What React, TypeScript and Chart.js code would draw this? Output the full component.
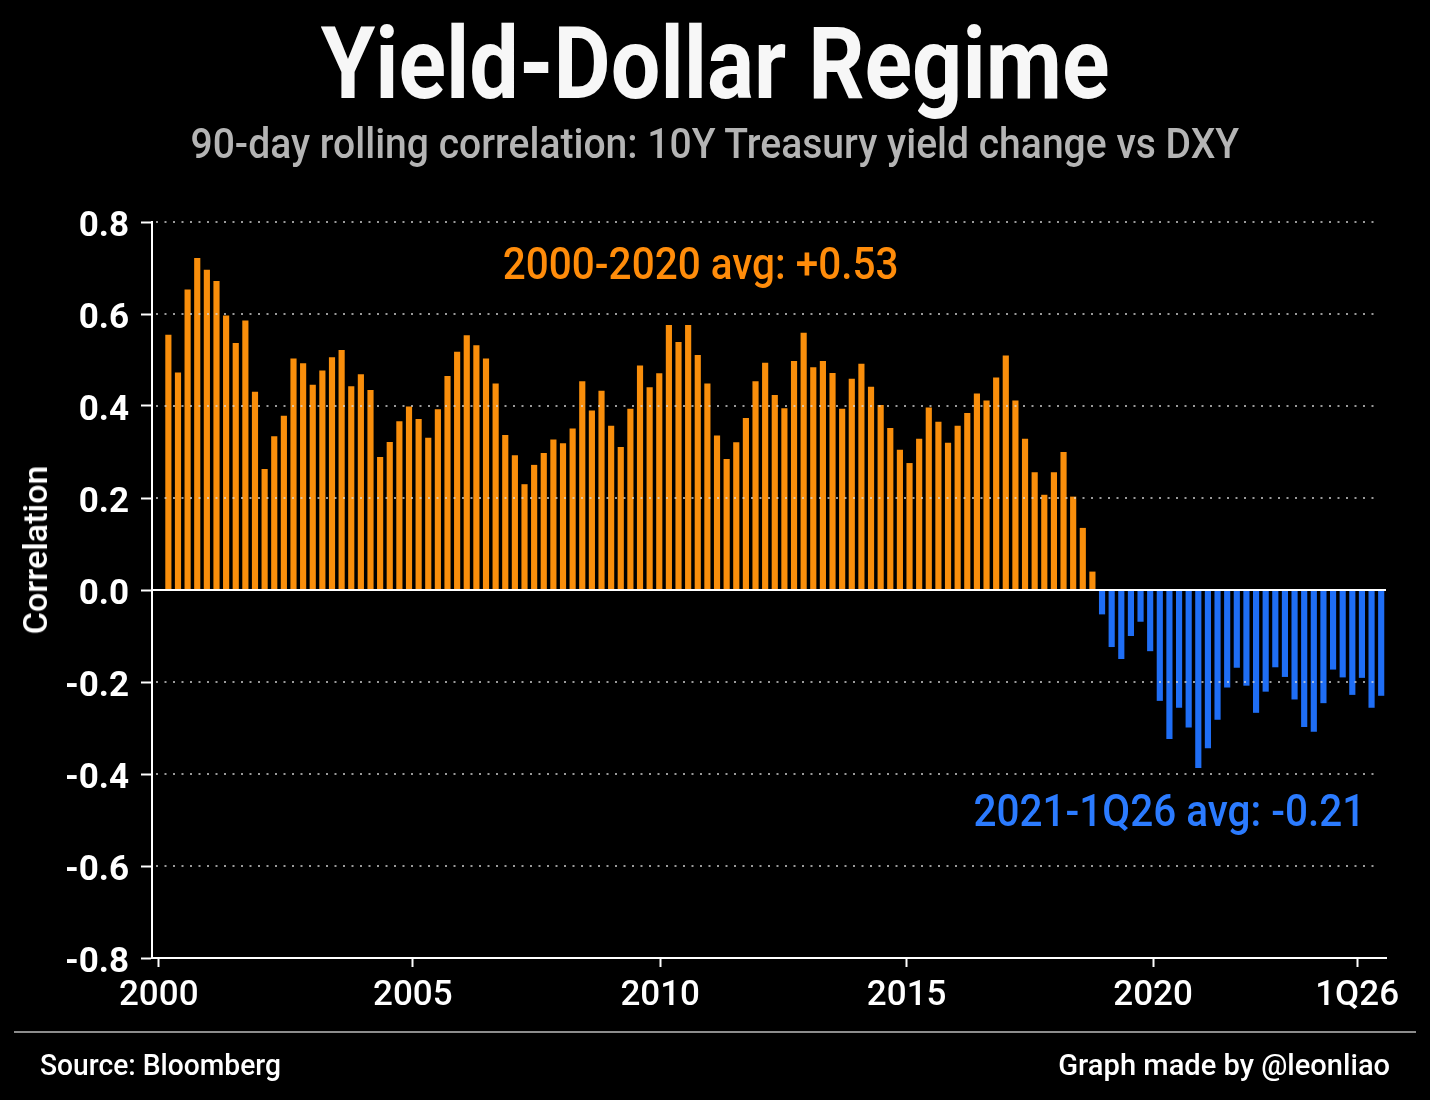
import { useEffect, useRef } from "react"
import { Chart, registerables } from "chart.js"

Chart.register(...registerables)

// 90-day rolling correlation, 10Y yield change vs DXY, one bar per period (2000 -> 1Q26)
const correlation = [
  // 2000 - 2005
  0.555, 0.473, 0.653, 0.722, 0.696, 0.672, 0.597, 0.537, 0.586, 0.431, 0.263, 0.334, 0.379,
  0.503, 0.493, 0.446, 0.477, 0.506, 0.522, 0.443, 0.469, 0.435, 0.289, 0.322, 0.367, 0.399,
  // 2005 - 2010
  0.372, 0.331, 0.393, 0.465, 0.518, 0.554, 0.532, 0.503, 0.449, 0.337, 0.293, 0.23, 0.272,
  0.298, 0.327, 0.319, 0.351, 0.454, 0.39, 0.433, 0.357, 0.311, 0.394, 0.488, 0.441, 0.471,
  // 2010 - 2015
  0.576, 0.539, 0.576, 0.511, 0.449, 0.336, 0.285, 0.321, 0.374, 0.454, 0.494, 0.424, 0.395,
  0.498, 0.559, 0.484, 0.498, 0.472, 0.394, 0.459, 0.492, 0.442, 0.402, 0.352, 0.305,
  // 2015 - 2020
  0.276, 0.329, 0.397, 0.366, 0.32, 0.357, 0.385, 0.427, 0.412, 0.462, 0.51, 0.412, 0.329,
  0.256, 0.207, 0.256, 0.3, 0.203, 0.135, 0.04,
  // 2021 - 1Q26
  -0.053, -0.124, -0.15, -0.1, -0.069, -0.133, -0.241, -0.324, -0.256, -0.299, -0.387, -0.344,
  -0.282, -0.212, -0.169, -0.208, -0.267, -0.221, -0.168, -0.189, -0.238, -0.298, -0.308,
  -0.246, -0.173, -0.19, -0.228, -0.191, -0.256, -0.23,
]

// x-axis labels and the bar position each one sits at
const xTickLabels = ["2000", "2005", "2010", "2015", "2020", "1Q26"]
const xTickAt = [-1, 25.4, 51.1, 76.7, 102.3, 123.5]

const ORANGE = "#f98e0b"
const BLUE = "#1f6ef5"

const notes = [
  { text: "2000-2020 avg: +0.53", at: 55.3, value: 0.7, color: "#ff8c0a" },
  { text: "2021-1Q26 avg: -0.21", at: 104, value: -0.49, color: "#2b7bff" },
]

const FONT = "Roboto, 'Noto Sans', sans-serif"

const overlay = {
  id: "overlay",
  afterDatasetsDraw(chart: Chart) {
    const { ctx, chartArea, scales } = chart
    const x = scales.x
    const y = scales.y
    ctx.save()

    // dotted grid on top of the bars
    ctx.lineWidth = 2
    ctx.strokeStyle = "rgba(220,220,220,0.7)"
    ctx.setLineDash([2, 6.5])
    y.ticks.forEach((t) => {
      if (t.value <= (y.min as number) + 1e-9 || Math.abs(t.value) < 1e-9) return
      const py = Math.round(y.getPixelForValue(t.value))
      ctx.beginPath()
      ctx.moveTo(chartArea.left + 4, py)
      ctx.lineTo(chartArea.right - 8, py)
      ctx.stroke()
    })

    // zero line
    ctx.setLineDash([])
    ctx.strokeStyle = "#ffffff"
    const zy = y.getPixelForValue(0)
    ctx.beginPath()
    ctx.moveTo(chartArea.left, zy)
    ctx.lineTo(chartArea.right, zy)
    ctx.stroke()

    // average annotations
    ctx.font = `500 44px ${FONT}`
    ctx.textAlign = "center"
    ctx.textBaseline = "middle"
    notes.forEach((n) => {
      ctx.save()
      ctx.translate(x.getPixelForValue(n.at), y.getPixelForValue(n.value))
      ctx.scale(0.92, 1)
      ctx.fillStyle = n.color
      ctx.fillText(n.text, 0, 0)
      ctx.restore()
    })
    ctx.restore()
  },
}

export default function App() {
  const chartRef = useRef<HTMLCanvasElement>(null)
  const chartInstance = useRef<Chart | null>(null)

  useEffect(() => {
    document.body.style.margin = "0"
    document.body.style.background = "#000"
    if (!chartRef.current) return

    if (chartInstance.current) {
      chartInstance.current.destroy()
    }

    const ctx = chartRef.current.getContext("2d")
    if (ctx) {
      chartInstance.current = new Chart(ctx, {
        type: "bar",
        data: {
          datasets: [
            {
              data: correlation.map((v, i) => ({ x: i, y: v })),
              backgroundColor: correlation.map((v) => (v >= 0 ? ORANGE : BLUE)),
              borderWidth: 0,
              barPercentage: 0.64,
              categoryPercentage: 1,
            },
          ],
        },
        options: {
          responsive: false,
          animation: false,
          layout: { padding: { top: 222, right: 44, bottom: 72, left: 0 } },
          plugins: {
            legend: { display: false },
            tooltip: { enabled: false },
          },
          scales: {
            x: {
              type: "linear",
              min: -1.7,
              max: 126.5,
              bounds: "data",
              offset: false,
              grid: {
                display: true,
                offset: false,
                drawOnChartArea: false,
                drawTicks: true,
                tickLength: 9,
                tickWidth: 2,
                tickColor: "#ffffff",
              },
              border: { display: true, color: "#ffffff", width: 2 },
              afterBuildTicks: (scale) => {
                scale.ticks = xTickAt.map((v) => ({ value: v }))
              },
              afterFit: (scale) => {
                scale.height = 70
              },
              ticks: {
                autoSkip: false,
                maxRotation: 0,
                color: "#ffffff",
                padding: 8,
                font: { family: FONT, size: 35, weight: "500" },
                callback: (_v, i) => xTickLabels[i],
              },
            },
            y: {
              min: -0.8,
              max: 0.8,
              grid: {
                drawOnChartArea: false,
                tickLength: 11,
                tickWidth: 2,
                tickColor: "#ffffff",
              },
              border: { display: true, color: "#ffffff", width: 2 },
              afterFit: (scale) => {
                scale.width = 152
              },
              ticks: {
                stepSize: 0.2,
                color: "#ffffff",
                padding: 12,
                labelOffset: 5,
                font: { family: FONT, size: 35, weight: "bold" },
                callback: (v) => {
                  const n = Number(v)
                  return Math.abs(n) < 1e-9 ? "0.0" : n.toFixed(1)
                },
              },
            },
          },
        },
        plugins: [overlay],
      })
    }

    return () => {
      if (chartInstance.current) {
        chartInstance.current.destroy()
        chartInstance.current = null
      }
    }
  }, [])

  const text = (extra: React.CSSProperties): React.CSSProperties => ({
    position: "absolute",
    fontFamily: FONT,
    lineHeight: 1,
    whiteSpace: "nowrap",
    ...extra,
  })

  return (
    <div style={{ position: "relative", width: 1430, height: 1100, background: "#000", overflow: "hidden" }}>
      <canvas ref={chartRef} width={1430} height={1100} style={{ position: "absolute", left: 0, top: 0 }} />
      <div style={text({ left: 0, right: 0, top: 14, textAlign: "center" })}>
        <span style={{ display: "inline-block", fontSize: 100, fontWeight: 700, color: "#f7f7f7", transform: "scaleX(0.88)" }}>
          Yield-Dollar Regime
        </span>
      </div>
      <div style={text({ left: 0, right: 0, top: 123, textAlign: "center" })}>
        <span style={{ display: "inline-block", fontSize: 42, fontWeight: 500, color: "#b4b4b4", transform: "scaleX(0.93)" }}>
          90-day rolling correlation: 10Y Treasury yield change vs DXY
        </span>
      </div>
      <div
        style={text({
          left: 35,
          top: 550,
          fontSize: 34,
          fontWeight: 500,
          color: "#ffffff",
          transform: "translate(-50%, -50%) rotate(-90deg)",
        })}
      >
        Correlation
      </div>
      <div style={{ position: "absolute", left: 14, top: 1031, width: 1402, height: 2, background: "#8c8c8c" }} />
      <div style={text({ left: 40, top: 1050, fontSize: 30, fontWeight: 500, color: "#ffffff", transformOrigin: "left", transform: "scaleX(0.94)" })}>
        Source: Bloomberg
      </div>
      <div style={text({ right: 40, top: 1050, fontSize: 30, fontWeight: 500, color: "#ffffff", transformOrigin: "right", transform: "scaleX(0.97)" })}>
        Graph made by @leonliao
      </div>
    </div>
  )
}
